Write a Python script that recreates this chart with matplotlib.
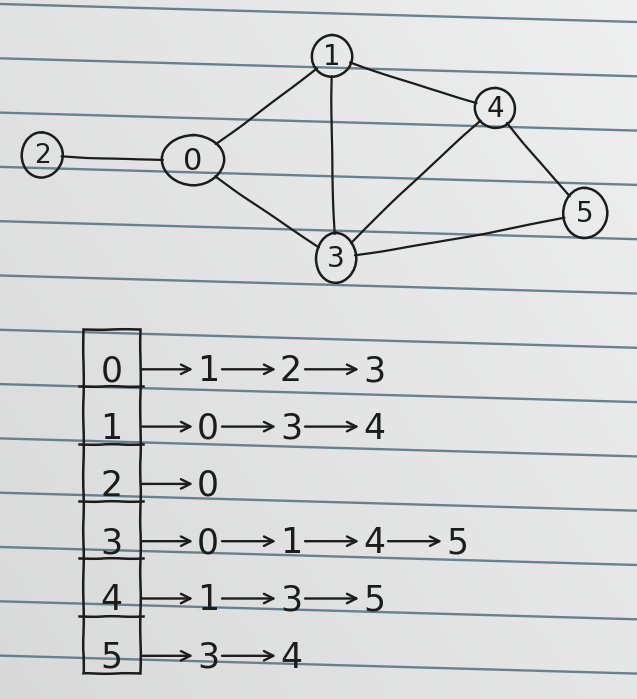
import numpy as np
import matplotlib
matplotlib.use("Agg")
import matplotlib.pyplot as plt
from matplotlib.patches import Ellipse, Rectangle

# ── Graph data ────────────────────────────────────────────────────────────────
node_ids = [0, 1, 2, 3, 4, 5]
node_x = [193, 332, 42, 336, 495, 585]
node_y = [160, 56, 155, 258, 108, 213]
edges = [(2, 0), (0, 1), (0, 3), (1, 3), (1, 4), (4, 3), (4, 5), (3, 5)]

# adjacency list shown in the table
adjacency = {
    0: [1, 2, 3],
    1: [0, 3, 4],
    2: [0],
    3: [0, 1, 4, 5],
    4: [1, 3, 5],
    5: [3, 4],
}

# ── Style ─────────────────────────────────────────────────────────────────────
INK = "#1c1c1c"
RULE = "#52707e"
W, H = 637, 699
node_w = [62, 40, 41, 40, 40, 44]
node_h = [50, 42, 45, 50, 40, 50]
node_fs = [22, 20, 19, 20, 20, 20]
FONT = ["DejaVu Sans"]

fig = plt.figure(figsize=(W / 100, H / 100), dpi=100)
ax = fig.add_axes([0, 0, 1, 1])
ax.set_xlim(0, W)
ax.set_ylim(H, 0)
ax.axis("off")

# paper background: soft grey gradient like the photo
gx = np.linspace(0, 1, 64)
gy = np.linspace(0, 1, 64)
GX, GY = np.meshgrid(gx, gy)
shade = 0.885 + 0.05 * GX - 0.035 * GY
paper = np.dstack([shade, shade + 0.002, shade + 0.004])
ax.imshow(np.clip(paper, 0, 1), extent=[0, W, H, 0], aspect="auto",
          interpolation="bilinear", zorder=0)

# ruled lines (slightly tilted)
for k in range(13):
    y0 = 4 + 54.3 * k
    ax.plot([0, W], [y0, y0 + 18], color=RULE, lw=1.7, alpha=0.85,
            solid_capstyle="butt", zorder=1)

# ── Graph drawing ─────────────────────────────────────────────────────────────
nodes = {}
for i, n in enumerate(node_ids):
    e = Ellipse((node_x[i], node_y[i]), node_w[i], node_h[i],
                facecolor="none", edgecolor=INK, lw=1.8, zorder=3)
    e.set_sketch_params(scale=0.3, length=60, randomness=4)
    ax.add_patch(e)
    nodes[n] = e
    ax.text(node_x[i], node_y[i] + 1, str(n), fontsize=node_fs[i], color=INK,
            ha="center", va="center", family=FONT, zorder=4)

for a, b in edges:
    ia, ib = node_ids.index(a), node_ids.index(b)
    arr = ax.annotate("", xy=(node_x[ib], node_y[ib]),
                      xytext=(node_x[ia], node_y[ia]),
                      arrowprops=dict(arrowstyle="-", color=INK, lw=1.6,
                                      patchA=nodes[a], patchB=nodes[b],
                                      shrinkA=0, shrinkB=0,
                                      connectionstyle="arc3,rad=0.02"),
                      zorder=2)
    arr.arrow_patch.set_sketch_params(scale=0.25, length=120, randomness=3)

# ── Adjacency table ───────────────────────────────────────────────────────────
box_left, box_right = 83, 140
box_top = 329
row_h = 57.3
n_rows = len(adjacency)

box = Rectangle((box_left, box_top), box_right - box_left, row_h * n_rows,
                facecolor="none", edgecolor=INK, lw=1.8, zorder=3)
box.set_sketch_params(scale=0.3, length=80, randomness=4)
ax.add_patch(box)

step = 83
first_x = 208
for r, (src, targets) in enumerate(adjacency.items()):
    bottom = box_top + row_h * (r + 1)
    if r < n_rows - 1:
        ln, = ax.plot([box_left - 4, box_right + 3], [bottom, bottom],
                      color=INK, lw=1.8, zorder=3)
        ln.set_sketch_params(scale=0.3, length=60, randomness=4)
    base = bottom - 5
    ax.text((box_left + box_right) / 2, base, str(src), fontsize=25,
            color=INK, ha="center", va="baseline", family=FONT, zorder=4)
    prev_end = box_right + 2
    for j, t in enumerate(targets):
        tx = first_x + step * j
        ax.annotate("", xy=(tx - 15, base - 12), xytext=(prev_end, base - 12),
                    arrowprops=dict(arrowstyle="->", color=INK, lw=1.7,
                                    mutation_scale=17, shrinkA=0, shrinkB=0),
                    zorder=4)
        ax.text(tx, base, str(t), fontsize=25, color=INK, ha="center",
                va="baseline", family=FONT, zorder=4)
        prev_end = tx + 14

fig.savefig("out.png", dpi=100)
